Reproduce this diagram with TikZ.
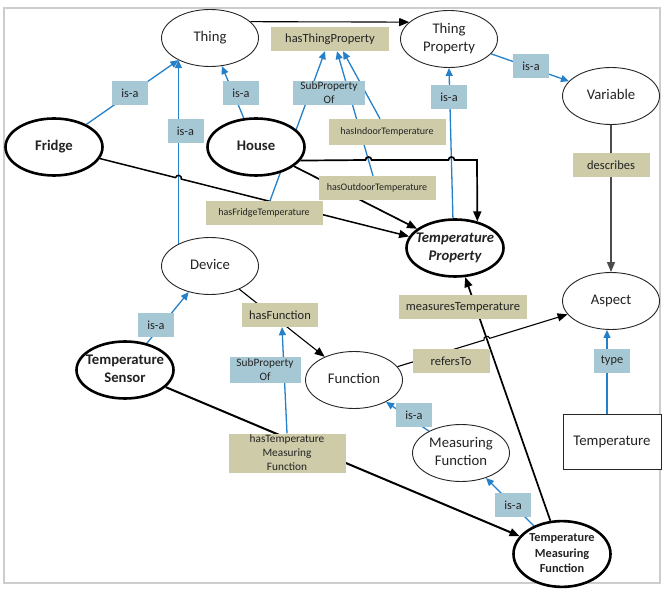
\documentclass[tikz,border=0pt]{standalone}
\usepackage{fontspec}
\setmainfont{Carlito}
\usetikzlibrary{shapes.geometric,arrows.meta,calc}
\pgfdeclarelayer{bg}
\pgfsetlayers{bg,main}
\definecolor{txt}{RGB}{35,35,35}
\definecolor{bbox}{RGB}{166,199,212}
\definecolor{obox}{RGB}{205,203,168}
\definecolor{bline}{RGB}{36,128,200}
\definecolor{framec}{RGB}{205,205,205}
\newcommand\zw[1]{\makebox[0pt]{\begin{tabular}{@{}c@{}}#1\end{tabular}}}
\begin{document}
\begin{tikzpicture}[x=1pt,y=-1pt,
 ell/.style={ellipse, draw=black!85, fill=white, line width=0.9pt, minimum width=97pt, minimum height=57pt, inner sep=0pt, text=txt, font=\fontsize{14.7}{18}\selectfont},
 bell/.style={ell, draw=black, line width=2.6pt, font=\bfseries\fontsize{14.7}{18}\selectfont},
 isa/.style={rectangle, fill=bbox, minimum width=36pt, minimum height=24pt, inner sep=0pt, text=txt, font=\fontsize{12.3}{14}\selectfont},
 prop/.style={rectangle, fill=obox, minimum height=24pt, inner sep=0pt, text=txt, font=\fontsize{12.5}{14}\selectfont},
 sprop/.style={prop, font=\fontsize{10}{12}\selectfont, minimum width=117pt},
 bl/.style={draw=bline, line width=1.3pt, -{Triangle[length=8pt,width=7pt]}},
 bk/.style={draw=black, line width=1.7pt, -{Triangle[length=10pt,width=8pt]}},
 bkthin/.style={bk, line width=1.1pt},
]
\useasboundingbox (0,0) rectangle (669,601);
% ellipses
\node[ell] (Thing) at (210,38) {\zw{Thing}};
\node[ell] (ThP) at (449,39) {\zw{Thing\\Property}};
\node[ell] (Var) at (611,96) {\zw{Variable}};
\node[bell] (Fridge) at (54,147) {\zw{Fridge}};
\node[bell] (House) at (256,147) {\zw{House}};
\node[bell, font=\bfseries\itshape\fontsize{14.7}{18}\selectfont] (TP) at (455,248) {\zw{Temperature\\Property}};
\node[ell] (Dev) at (210,266) {\zw{Device}};
\node[bell] (TS) at (125,370) {\zw{Temperature\\Sensor}};
\node[ell] (Fun) at (354,380) {\zw{Function}};
\node[ell] (Asp) at (611,301) {\zw{Aspect}};
\node[ell] (MF) at (461,453) {\zw{Measuring\\Function}};
\node[bell, font=\bfseries\fontsize{12.3}{15.5}\selectfont] (TMF) at (562,554) {\zw{Temperature\\Measuring\\Function}};
\node[draw=black!85, fill=white, line width=0.9pt, minimum width=98pt, minimum height=55pt, inner sep=0pt, text=txt, font=\fontsize{14.8}{18}\selectfont] (Temp) at (612,442) {Temperature};
% labels
\node[prop, minimum width=118pt] (HTP) at (330,39) {hasThingProperty};
\node[isa] (i1) at (130,93) {is-a};
\node[isa] (i2) at (185.5,131) {is-a};
\node[isa] (i3) at (241,93) {is-a};
\node[isa, minimum width=72pt, font=\fontsize{11.3}{14}\selectfont, align=center] (SP1) at (329,93) {SubProperty\\Of};
\node[sprop, minimum height=26pt] (In) at (387,132) {hasIndoorTemperature};
\node[sprop] (Out) at (377,188) {hasOutdoorTemperature};
\node[sprop] (FT) at (264,213) {hasFridgeTemperature};
\node[isa] (i4) at (449,97) {is-a};
\node[isa] (i5) at (531,66) {is-a};
\node[prop, minimum width=77pt] (Desc) at (611,165) {describes};
\node[isa] (i6) at (156,325) {is-a};
\node[prop, minimum width=76pt] (HF) at (280,315) {hasFunction};
\node[isa, minimum width=71pt, minimum height=26pt, font=\fontsize{11.3}{14}\selectfont, align=center] (SP2) at (265,370) {SubProperty\\Of};
\node[prop, minimum width=128pt] (MT) at (463,307) {measuresTemperature};
\node[prop, minimum width=77pt] (RT) at (451,361) {refersTo};
\node[isa] (i7) at (612,361) {type};
\node[isa] (i8) at (414,415) {is-a};
\node[isa] (i9) at (513,505) {is-a};
\node[prop, minimum width=117pt, minimum height=39pt, align=center, font=\fontsize{11.3}{14}\selectfont] (HTMF) at (287,453) {hasTemperature\\Measuring\\Function};
% connectors
\begin{pgfonlayer}{bg}
\draw[framec, line width=1.5pt] (4,8) rectangle (660,583);
\draw[bkthin] (Thing.22) -- (ThP.157);
\draw[bl] (Fridge) -- (Thing);
\draw[bl] (Dev.145) -- (Thing.215);
\draw[bl] (House) -- (Thing);
\draw[bl] ($(FT.north)+(6,0)$) -- ($(HTP.south)+(-5,0)$);
\draw[bl] ($(In.north)+(-7,0)$) -- ($(HTP.south)+(13,0)$);
\draw[bl] ($(Out.north)+(-4,0)$) -- ($(HTP.south)+(7,0)$);
\draw[bl] (TP.94) -- (ThP.south);
\draw[bl] (ThP) -- (Var);
\draw[bl] (TS) -- (Dev);
\draw[bl] (HTMF.north) -- ($(HF.south)+(2,0)$);
\draw[bl] (MF) -- (Fun);
\draw[bl] (TMF) -- (MF);
\draw[bl] ($(Temp.north)+(-5,0)$) -- ($(Asp.south)+(-4,0)$);
\draw[bk, draw=black!70, line width=1.4pt] (Var) -- (Asp);
% Fridge -> TP with hop
\coordinate (x1) at (intersection of Fridge.center--TP.center and Dev.145--Thing.215);
\draw[bk, line width=1.5pt] (Fridge) -- ($(x1)!3pt!(Fridge)$) .. controls ($(x1)!3pt!(Fridge)!4pt!90:(x1)$) and ($(x1)!3pt!(TP)!4pt!-90:(x1)$) .. ($(x1)!3pt!(TP)$) -- (TP);
% House -> TP elbow with hops
\coordinate (elb) at (477,160);
\draw[bk] (House.-17) -- (365.5,160) .. controls (365.5,156) and (371.5,156) .. (371.5,160) -- (448.5,160) .. controls (448.5,156) and (454.5,156) .. (454.5,160) -- (elb) -- (TP.50);
\draw[bk] (House) -- (TP);
\draw[bk, line width=2pt] (TS) -- (TMF);
\draw[bkthin] (Dev) -- (Fun);
\draw[bk] (TMF) -- (TP);
\coordinate (x2) at (intersection of Fun.center--Asp.center and TMF.center--TP.center);
\draw[bkthin] (Fun) -- ($(x2)!3pt!(Fun)$) .. controls ($(x2)!3pt!(Fun)!4pt!90:(x2)$) and ($(x2)!3pt!(Asp)!4pt!-90:(x2)$) .. ($(x2)!3pt!(Asp)$) -- (Asp);
\end{pgfonlayer}
\end{tikzpicture}
\end{document}
